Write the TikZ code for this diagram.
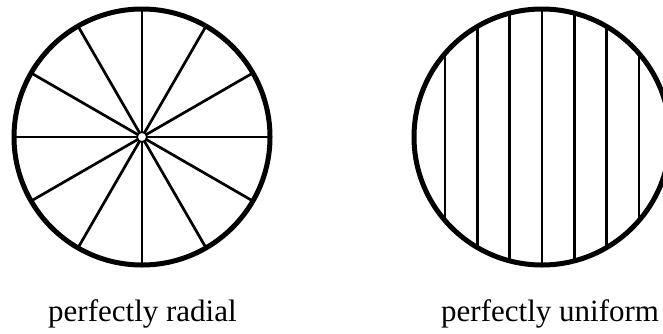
\documentclass[tikz,border=0pt]{standalone}
\usepackage{fontspec}
\setmainfont{Liberation Serif}
\usetikzlibrary{positioning, calc}

\begin{document}
\begin{tikzpicture}[
    x=1pt, y=-1pt,
    rim/.style={draw=black, line width=5pt},
    spoke/.style={draw=black, line width=2.7pt},
    chord/.style={draw=black, line width=2.7pt},
    hubdot/.style={circle, draw=black, fill=white, line width=1.8pt, inner sep=0pt, minimum size=10pt},
    caption/.style={font=\fontsize{31}{37}\selectfont, anchor=base west, inner sep=0pt}
]
\clip (0,0) rectangle (663,333);
\useasboundingbox (0,0) rectangle (663,333);

% radial wheel
\coordinate (radc) at (142,137);
\foreach \a in {0,30,...,330}
    \draw[spoke] (radc) -- ++(\a:128);
\draw[rim] (radc) circle[radius=128];
\node[hubdot] (hub) at (radc) {};

% uniform chords
\coordinate (unic) at (542,137);
\foreach \k in {-3,...,3} {
    \pgfmathsetmacro{\dx}{\k*32.3}
    \pgfmathsetmacro{\hh}{128*sqrt(1-(\dx/128)^2)}
    \draw[chord] ($(unic)+(\dx,-\hh)$) -- ($(unic)+(\dx,\hh)$);
}
\draw[rim] (unic) circle[radius=128];

\node[caption] (radlab) at (48,321) {perfectly radial};
\node[caption] (unilab) at (441,321) {perfectly uniform};
\end{tikzpicture}
\end{document}
